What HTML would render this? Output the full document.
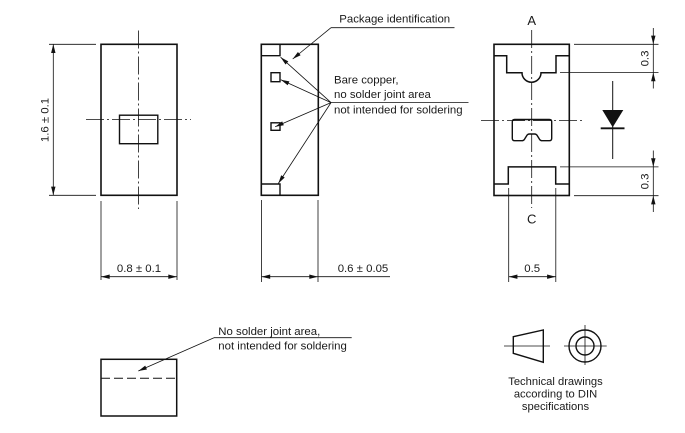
<!DOCTYPE html>
<html>
<head>
<meta charset="utf-8">
<style>
  html, body { margin:0; padding:0; background:#fff; }
  svg { display:block; }
  text { font-family: "Liberation Sans", Arial, sans-serif; fill:#1a1a1a; }
</style>
</head>
<body>
<svg width="685" height="433" viewBox="0 0 685 433" xmlns="http://www.w3.org/2000/svg">
  <g fill="none" stroke="#111" stroke-linecap="butt">
    <!-- ============ LEFT VIEW ============ -->
    <rect x="101" y="44.3" width="76" height="151" stroke-width="1.6"/>
    <rect x="119.5" y="115.2" width="38.3" height="28.5" stroke-width="1.4"/>
    <!-- centerlines -->
    <line x1="138.5" y1="30.5" x2="138.5" y2="209" stroke-width="0.8" stroke-dasharray="18,3,2,3"/>
    <line x1="86" y1="119.5" x2="191" y2="119.5" stroke-width="0.8" stroke-dasharray="18,3,2,3"/>
    <!-- vertical dim 1.6 -->
    <line x1="49" y1="44.3" x2="96" y2="44.3" stroke-width="0.8"/>
    <line x1="49" y1="195.3" x2="96" y2="195.3" stroke-width="0.8"/>
    <line x1="53.3" y1="44.3" x2="53.3" y2="195.3" stroke-width="0.8"/>
    <!-- bottom dim 0.8 -->
    <line x1="101" y1="201" x2="101" y2="280" stroke-width="0.8"/>
    <line x1="177" y1="201" x2="177" y2="280" stroke-width="0.8"/>
    <line x1="101" y1="276.7" x2="177" y2="276.7" stroke-width="0.8"/>

    <!-- ============ MIDDLE VIEW ============ -->
    <rect x="261.3" y="44.3" width="57" height="151" stroke-width="1.6"/>
    <polyline points="261.3,55.7 280,55.7 280,44.3" stroke-width="1.4"/>
    <polyline points="261.3,184 280,184 280,195.3" stroke-width="1.4"/>
    <rect x="271" y="72.7" width="9" height="9" stroke-width="1.4"/>
    <rect x="271" y="122.8" width="9" height="7.5" stroke-width="1.4"/>
    <!-- package identification leader -->
    <line x1="331" y1="27.7" x2="454.5" y2="27.7" stroke-width="0.8"/>
    <line x1="331" y1="27.7" x2="292.7" y2="59" stroke-width="0.8"/>
    <!-- bare copper leaders -->
    <line x1="331" y1="102.6" x2="468.5" y2="102.6" stroke-width="0.8"/>
    <line x1="331" y1="102.6" x2="280.6" y2="57.2" stroke-width="0.8"/>
    <line x1="331" y1="102.6" x2="280.8" y2="79.8" stroke-width="0.8"/>
    <line x1="331" y1="102.6" x2="275.2" y2="126.7" stroke-width="0.8"/>
    <line x1="331" y1="102.6" x2="278.3" y2="183.5" stroke-width="0.8"/>
    <!-- bottom dim 0.6 -->
    <line x1="261.5" y1="200" x2="261.5" y2="282" stroke-width="0.8"/>
    <line x1="318" y1="200" x2="318" y2="282" stroke-width="0.8"/>
    <line x1="261.5" y1="276.7" x2="390" y2="276.7" stroke-width="0.8"/>

    <!-- ============ RIGHT VIEW ============ -->
    <rect x="494" y="44.3" width="75.3" height="151.2" stroke-width="1.6"/>
    <path d="M494,55.7 H506.7 V72.7 H522 A9.5,9.5 0 0 0 541,72.7 H556 V55.7 H569.3" stroke-width="1.5"/>
    <path d="M494,184 H508.3 V166.9 H555.7 V184 H569.3" stroke-width="1.5"/>
    <path d="M514.6,119.5 H549.4 Q551.7,119.5 551.7,121.8 V138.4 Q551.7,140.7 549.4,140.7 H542 Q540.5,140.7 539.5,139.3 L537.5,136 Q536.5,134 534.5,134 H529.5 Q527.5,134 526.5,136 L524.5,139.3 Q523.5,140.7 522,140.7 H514.6 Q512.3,140.7 512.3,138.4 V121.8 Q512.3,119.5 514.6,119.5 Z" stroke-width="1.4"/>
    <!-- centerlines -->
    <line x1="531.7" y1="30" x2="531.7" y2="208" stroke-width="0.8" stroke-dasharray="18,3,2,3"/>
    <line x1="481" y1="120.6" x2="584" y2="120.6" stroke-width="0.8" stroke-dasharray="18,3,2,3"/>
    <!-- bottom dim 0.5 -->
    <line x1="508.7" y1="188" x2="508.7" y2="282" stroke-width="0.8"/>
    <line x1="555.8" y1="188" x2="555.8" y2="282" stroke-width="0.8"/>
    <line x1="508.7" y1="276.7" x2="555.8" y2="276.7" stroke-width="0.8"/>
    <!-- right dims 0.3 -->
    <line x1="574" y1="44.3" x2="658.5" y2="44.3" stroke-width="0.8"/>
    <line x1="560" y1="72.5" x2="658.5" y2="72.5" stroke-width="0.8"/>
    <line x1="560" y1="166.9" x2="658.5" y2="166.9" stroke-width="0.8"/>
    <line x1="574" y1="195.7" x2="658.5" y2="195.7" stroke-width="0.8"/>
    <line x1="653.3" y1="28" x2="653.3" y2="88.5" stroke-width="0.8"/>
    <line x1="653.3" y1="150.5" x2="653.3" y2="212" stroke-width="0.8"/>
    <!-- diode -->
    <line x1="612.7" y1="81" x2="612.7" y2="159" stroke-width="1"/>
    <line x1="600.7" y1="128.3" x2="624.5" y2="128.3" stroke-width="1.8"/>

    <!-- ============ BOTTOM LEFT VIEW ============ -->
    <rect x="101" y="359.3" width="75.7" height="56.7" stroke-width="1.5"/>
    <line x1="101" y1="378.3" x2="176.7" y2="378.3" stroke-width="1" stroke-dasharray="9,4"/>
    <line x1="214" y1="337.7" x2="351.7" y2="337.7" stroke-width="0.8"/>
    <line x1="214" y1="337.7" x2="138.3" y2="371" stroke-width="0.8"/>

    <!-- ============ DIN SYMBOL ============ -->
    <polygon points="513.3,336.7 543.3,330 543.3,362.3 513.3,353.3" stroke-width="1.4"/>
    <line x1="504" y1="346" x2="550" y2="346" stroke-width="0.8"/>
    <circle cx="585" cy="346" r="16" stroke-width="1.4"/>
    <circle cx="585" cy="346" r="9" stroke-width="1.4"/>
    <line x1="564" y1="346" x2="606.7" y2="346" stroke-width="0.8"/>
    <line x1="585" y1="325" x2="585" y2="365" stroke-width="0.8"/>
  </g>

  <!-- arrowheads -->
  <g fill="#111" stroke="none">
    <!-- left vertical dim -->
    <polygon points="53.3,44.3 51.1,53 55.5,53"/>
    <polygon points="53.3,195.3 51.1,186.6 55.5,186.6"/>
    <!-- 0.8 -->
    <polygon points="101,276.7 109.7,274.5 109.7,278.9"/>
    <polygon points="177,276.7 168.3,274.5 168.3,278.9"/>
    <!-- 0.6 -->
    <polygon points="261.5,276.7 270.2,274.5 270.2,278.9"/>
    <polygon points="318,276.7 309.3,274.5 309.3,278.9"/>
    <!-- 0.5 -->
    <polygon points="508.7,276.7 517.4,274.5 517.4,278.9"/>
    <polygon points="555.8,276.7 547.1,274.5 547.1,278.9"/>
    <!-- 0.3 top -->
    <polygon points="653.3,44.3 651.1,35.6 655.5,35.6"/>
    <polygon points="653.3,72.5 651.1,81.2 655.5,81.2"/>
    <!-- 0.3 bottom -->
    <polygon points="653.3,166.9 651.1,158.2 655.5,158.2"/>
    <polygon points="653.3,195.7 651.1,204.4 655.5,204.4"/>
    <!-- leader arrows -->
    <g transform="translate(292.7,59) rotate(140.7)"><polygon points="0,0 -8.5,-2.1 -8.5,2.1"/></g>
    <g transform="translate(280.6,57.2) rotate(222)"><polygon points="0,0 -8.5,-2.1 -8.5,2.1"/></g>
    <g transform="translate(280.8,79.8) rotate(204.4)"><polygon points="0,0 -8.5,-2.1 -8.5,2.1"/></g>
    <g transform="translate(275.2,126.7) rotate(156.7)"><polygon points="0,0 -8.5,-2.1 -8.5,2.1"/></g>
    <g transform="translate(278.3,183.5) rotate(123.1)"><polygon points="0,0 -8.5,-2.1 -8.5,2.1"/></g>
    <g transform="translate(138.3,371) rotate(156.3)"><polygon points="0,0 -8.5,-2.1 -8.5,2.1"/></g>
    <!-- diode triangle -->
    <polygon points="602.3,110 623.3,110 612.7,127.3"/>
  </g>

  <!-- text -->
  <g font-size="11.4">
    <text x="45.5" y="120" transform="rotate(-90 45.5 120)" text-anchor="middle" dominant-baseline="central">1.6 ± 0.1</text>
    <text x="139" y="272" text-anchor="middle">0.8 ± 0.1</text>
    <text x="339.3" y="22.3">Package identification</text>
    <text x="334" y="83.5">Bare copper,</text>
    <text x="334" y="97.8">no solder joint area</text>
    <text x="334" y="113.3">not intended for soldering</text>
    <text x="337.7" y="271.8">0.6 ± 0.05</text>
    <text x="532.2" y="271.8" text-anchor="middle">0.5</text>
    <text x="645.7" y="58.5" transform="rotate(-90 645.7 58.5)" text-anchor="middle" dominant-baseline="central">0.3</text>
    <text x="645.7" y="181.5" transform="rotate(-90 645.7 181.5)" text-anchor="middle" dominant-baseline="central">0.3</text>
    <text x="218.3" y="335">No solder joint area,</text>
    <text x="218.3" y="349.3">not intended for soldering</text>
  </g>
  <g font-size="13" text-anchor="middle">
    <text x="531.7" y="25">A</text>
    <text x="531.7" y="223.3">C</text>
  </g>
  <g font-size="11.2" text-anchor="middle">
    <text x="555.5" y="385">Technical drawings</text>
    <text x="555.5" y="397.5">according to DIN</text>
    <text x="555.5" y="410">specifications</text>
  </g>
</svg>
</body>
</html>
